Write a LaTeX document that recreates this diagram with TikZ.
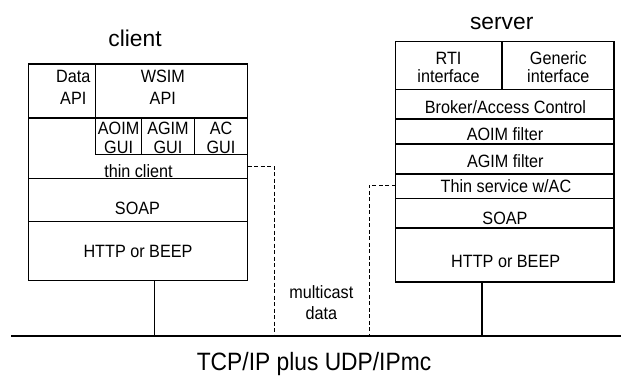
\documentclass[tikz,border=0pt]{standalone}
\usepackage{fontspec}
\usepackage{graphicx}
\setmainfont{Liberation Sans}
\newcommand{\vst}[1]{\scalebox{1}[1.1]{#1}}
\begin{document}
\begin{tikzpicture}[x=1pt,y=-1pt,
  box/.style={line width=1.1pt,black},
  net/.style={line width=1.5pt,black},
  link/.style={line width=1.1pt,black},
  mlink/.style={line width=1pt,black,dash pattern=on 4pt off 2.5pt},
  txt/.style={anchor=base,inner sep=0pt,font=\fontsize{16.2pt}{19pt}\selectfont},
  big/.style={anchor=base,inner sep=0pt,font=\fontsize{22.8pt}{26pt}\selectfont}]
\useasboundingbox (0,0) rectangle (621,375);

% client stack
\draw[box] (28.5,64) rectangle (247.5,280.3);
\draw[box] (95.5,64) -- (95.5,154.5);
\draw[box] (28.5,118) -- (247.5,118);
\draw[box] (95.5,154.5) -- (247.5,154.5);
\draw[box] (141.7,118) -- (141.7,154.5);
\draw[box] (194.7,118) -- (194.7,154.5);
\draw[box] (28.5,178.7) -- (247.5,178.7);
\draw[box] (28.5,221.3) -- (247.5,221.3);

% server stack
\draw[box] (395.7,41.3) rectangle (614,282);
\draw[box] (502,41.3) -- (502,89.3);
\foreach \yy in {89.3,119,144,174,198.3,228}
  \draw[box] (395.7,\yy) -- (614,\yy);

% coordinates for connectors
\coordinate (netL) at (11,336);
\coordinate (netR) at (621,336);
\coordinate (cbot) at (154.7,280.3);
\coordinate (sbot) at (482,282);
\coordinate (cthin) at (247.5,166);
\coordinate (cturn) at (274,166);
\coordinate (sthin) at (395.7,185);
\coordinate (sturn) at (369,185);

% network and connectors
\draw[net] (netL) -- (netR);
\draw[link] (cbot) -- (cbot |- netL);
\draw[link] (sbot) -- (sbot |- netL);
\draw[mlink] (cthin) -- (cturn) -- (cturn |- netL);
\draw[mlink] (sthin) -- (sturn) -- (sturn |- netL);

% titles
\node[big] (tclient) at (135,46) {client};
\node[big] (tserver) at (501.7,29.3) {server};
\node[big] (tnet) at (314,370) {\vst{TCP/IP plus UDP/IPmc}};

% client texts
\node[txt] (data1) at (73.3,82) {\vst{Data}};
\node[txt] (data2) at (73.3,104.5) {\vst{API}};
\node[txt] (wsim1) at (162.8,82) {\vst{WSIM}};
\node[txt] (wsim2) at (162.8,104.5) {\vst{API}};
\node[txt] (aoim1) at (118.6,134) {\vst{AOIM}};
\node[txt] (aoim2) at (118.6,153.5) {\vst{GUI}};
\node[txt] (agim1) at (168,134) {\vst{AGIM}};
\node[txt] (agim2) at (168,153.5) {\vst{GUI}};
\node[txt] (ac1) at (221,134) {\vst{AC}};
\node[txt] (ac2) at (221,153.5) {\vst{GUI}};
\node[txt] (thinc) at (138.5,177.5) {\vst{thin client}};
\node[txt] (soapc) at (137.5,214.5) {\vst{SOAP}};
\node[txt] (httpc) at (138,257) {\vst{HTTP or BEEP}};

% server texts
\node[txt] (rti1) at (448.5,64) {\vst{RTI}};
\node[txt] (rti2) at (448.5,82.5) {\vst{interface}};
\node[txt] (gen1) at (558.3,64) {\vst{Generic}};
\node[txt] (gen2) at (558.3,82.5) {\vst{interface}};
\node[txt] (broker) at (505.5,113) {\vst{Broker/Access Control}};
\node[txt] (aoimf) at (505,140) {\vst{AOIM filter}};
\node[txt] (agimf) at (505.3,167) {\vst{AGIM filter}};
\node[txt] (thins) at (506,192) {\vst{Thin service w/AC}};
\node[txt] (soaps) at (505,224.5) {\vst{SOAP}};
\node[txt] (https) at (505.7,267) {\vst{HTTP or BEEP}};

% multicast label
\node[txt] (mc1) at (321.3,298) {\vst{multicast}};
\node[txt] (mc2) at (321.3,319.5) {\vst{data}};
\end{tikzpicture}
\end{document}
